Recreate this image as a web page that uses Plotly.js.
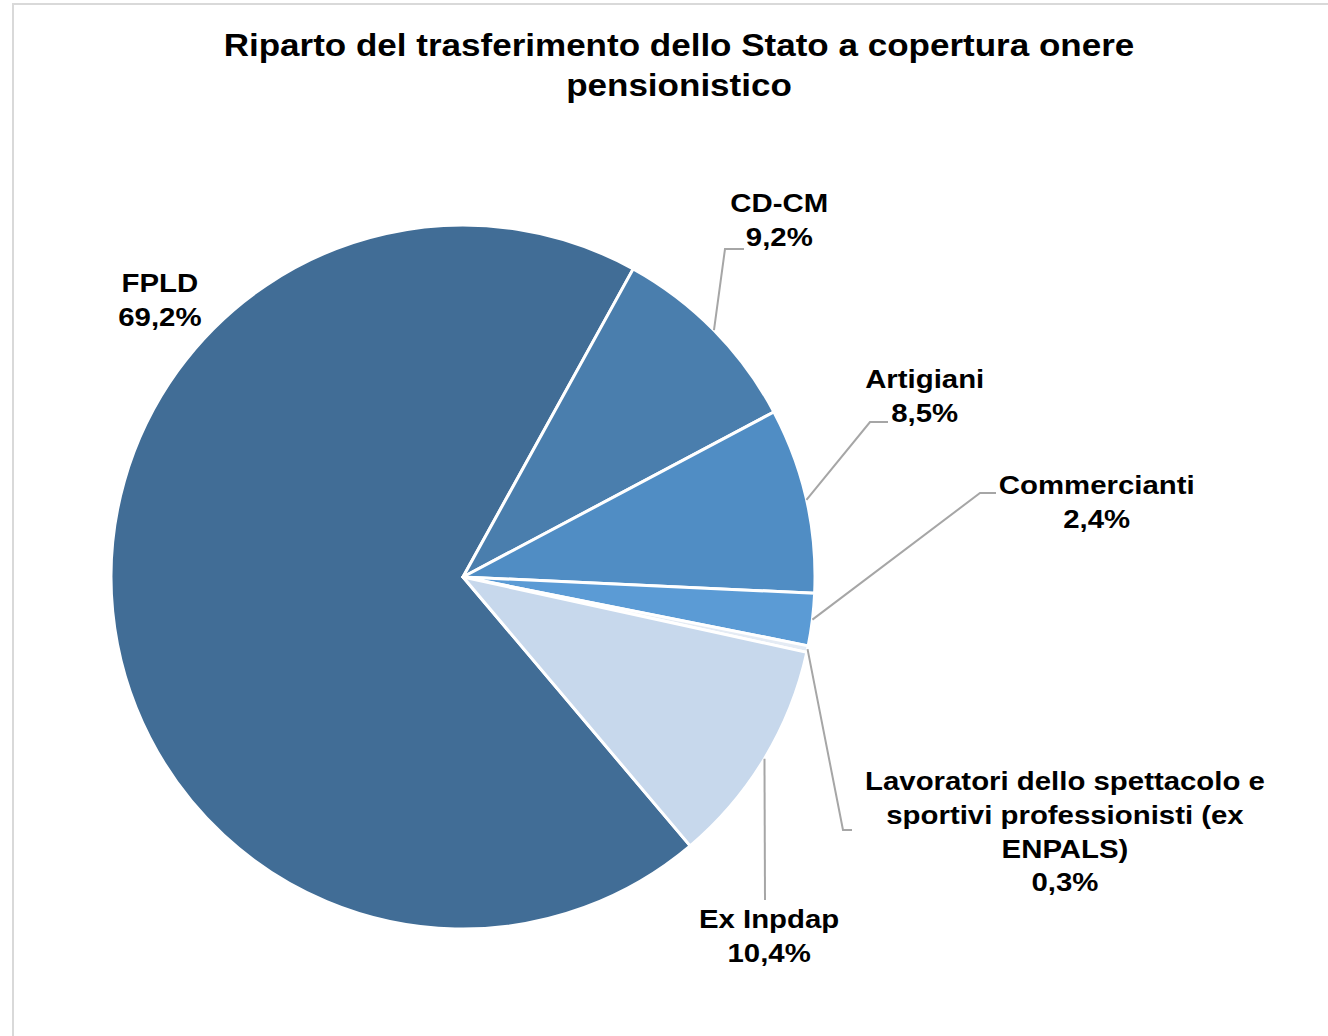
<!DOCTYPE html>
<html>
<head>
<meta charset="utf-8">
<script src="https://cdn.plot.ly/plotly-3.0.1.min.js"></script>
<style>html,body{margin:0;padding:0;background:#fff;}#chart{width:1328px;height:1036px;}</style>
</head>
<body>
<div id="chart"></div>
<script>
// ---- data ----
const categories = ["FPLD", "CD-CM", "Artigiani", "Commercianti",
  "Lavoratori dello spettacolo e<br>sportivi professionisti (ex<br>ENPALS)", "Ex Inpdap"];
const shares = [69.2, 9.2, 8.5, 2.4, 0.3, 10.4];
const chartTitle = "Riparto del trasferimento dello Stato a copertura onere<br>pensionistico";

// ---- styling / layout constants ----
const W = 1328, H = 1036;
const colors = ["#416d96", "#4a7ead", "#508dc4", "#5b9bd5", "#e4ebf4", "#c7d8ec"];
const cx = 463, cy = 577, R = 352;       // pie centre & radius in pixels
const rotation = 139.8;
const textStretch = 1.13;                 // reference glyphs are horizontally wide
// label centre positions and leader-line elbows (pixels); null = no leader
const labelPos = [[160, 300], [779, 220], [924, 396], [1096, 502], [1065, 831], [769, 936]];
const elbows = [null, [[725, 249], [744, 249]], [[870, 422], [888, 422]], [[980, 493], [996, 493]],
  [[843, 830], [852, 830]], [[765, 900]]];

const px = x => x / W, py = y => 1 - y / H;
const fmt = v => v.toFixed(1).replace('.', ',') + '%';

const total = shares.reduce((a, b) => a + b, 0);
const annotations = [];
const shapes = [
  {type: 'line', xref: 'paper', yref: 'paper', x0: px(13), x1: px(13), y0: py(3), y1: py(1036), line: {color: '#d9d9d9', width: 2}},
  {type: 'line', xref: 'paper', yref: 'paper', x0: px(12), x1: px(1328), y0: py(4), y1: py(4), line: {color: '#d9d9d9', width: 2}}
];
let acc = 0;
categories.forEach((c, i) => {
  const mid = rotation + 360 * (acc + shares[i] / 2) / total;
  acc += shares[i];
  const a = mid * Math.PI / 180;
  const ax = cx + R * Math.sin(a), ay = cy - R * Math.cos(a);
  const bold = c.split('<br>').map(s => '<b>' + s + '</b>').join('<br>');
  annotations.push({
    xref: 'paper', yref: 'paper', x: px(labelPos[i][0]), y: py(labelPos[i][1]),
    xanchor: 'center', yanchor: 'middle', showarrow: false, align: 'center',
    text: bold + '<br><b>' + fmt(shares[i]) + '</b>',
    font: {family: 'Liberation Sans, Arial, sans-serif', size: 26, color: '#000'}
  });
  if (elbows[i]) {
    let pts = [[ax, ay]].concat(elbows[i]);
    let path = 'M' + pts.map(p => px(p[0]) + ',' + py(p[1])).join(' L');
    shapes.push({type: 'path', xref: 'paper', yref: 'paper', path: path,
      line: {color: '#a6a6a6', width: 2}});
  }
});

const trace = {
  type: 'pie',
  labels: categories,
  values: shares,
  sort: false,
  direction: 'clockwise',
  rotation: rotation,
  textinfo: 'none',
  hoverinfo: 'label+percent',
  marker: {colors: colors, line: {color: '#ffffff', width: 3}},
  domain: {x: [px(cx - R), px(cx + R)], y: [py(cy + R), py(cy - R)]},
  showlegend: false
};

const layout = {
  width: W, height: H,
  margin: {l: 0, r: 0, t: 0, b: 0},
  paper_bgcolor: '#ffffff',
  showlegend: false,
  title: {
    text: '<b>' + chartTitle.split('<br>').join('</b><br><b>') + '</b>',
    x: 679 / W, xanchor: 'center', xref: 'paper',
    y: 1 - 56 / H, yanchor: 'top', yref: 'container',
    font: {family: 'Liberation Sans, Arial, sans-serif', size: 31, color: '#000'}
  },
  annotations: annotations,
  shapes: shapes
};

Plotly.newPlot('chart', [trace], layout, {displayModeBar: false, staticPlot: true}).then(gd => {
  const els = gd.querySelectorAll('.annotation-text, .gtitle');
  els.forEach(el => {
    const b = el.getBBox();
    const c = b.x + b.width / 2;
    const prev = el.getAttribute('transform') || '';
    el.setAttribute('transform', (prev + ' translate(' + c + ',0) scale(' + textStretch + ',1) translate(' + (-c) + ',0)').trim());
  });
});
</script>
</body>
</html>
